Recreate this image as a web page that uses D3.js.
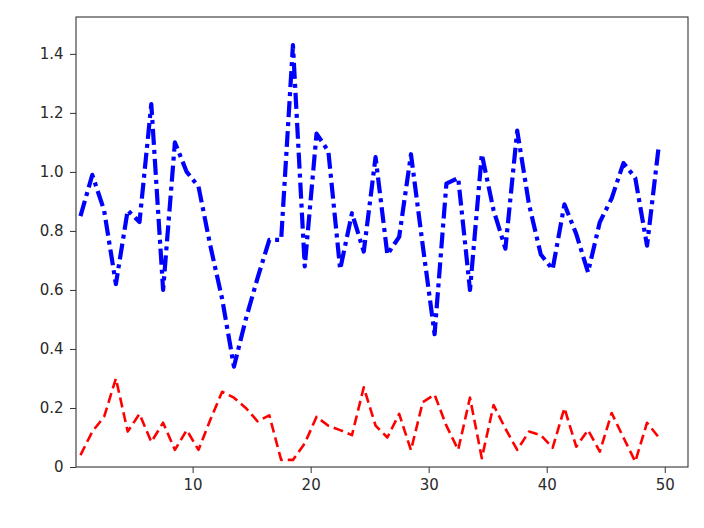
<!DOCTYPE html>
<html>
<head>
<meta charset="utf-8">
<script src="https://cdn.jsdelivr.net/npm/d3@7"></script>
<style>
  html, body { margin: 0; padding: 0; background: #fff; }
  svg { display: block; }
</style>
</head>
<body>
<svg id="chart" width="704" height="528"></svg>
<script>
// ---- data ----
const xValues = d3.range(50).map(i => 0.5 + i);
const blueSeries = [0.85, 0.99, 0.87, 0.62, 0.87, 0.83, 1.23, 0.60, 1.10, 1.00,
                    0.95, 0.75, 0.57, 0.34, 0.50, 0.64, 0.77, 0.77, 1.43, 0.68,
                    1.13, 1.07, 0.67, 0.86, 0.73, 1.05, 0.72, 0.78, 1.06, 0.75,
                    0.45, 0.96, 0.98, 0.60, 1.06, 0.87, 0.74, 1.14, 0.89, 0.72,
                    0.67, 0.89, 0.79, 0.66, 0.83, 0.91, 1.03, 0.98, 0.75, 1.09];
const redSeries  = [0.04, 0.12, 0.17, 0.30, 0.12, 0.18, 0.085, 0.15, 0.058, 0.125,
                    0.058, 0.16, 0.255, 0.235, 0.20, 0.155, 0.175, 0.024, 0.024, 0.08,
                    0.17, 0.14, 0.125, 0.108, 0.27, 0.14, 0.10, 0.18, 0.057, 0.22,
                    0.245, 0.14, 0.058, 0.235, 0.03, 0.21, 0.13, 0.058, 0.12, 0.108,
                    0.065, 0.20, 0.069, 0.125, 0.052, 0.183, 0.10, 0.018, 0.15, 0.10];
const xTicks = [10, 20, 30, 40, 50];
const yTicks = [0, 0.2, 0.4, 0.6, 0.8, 1.0, 1.2, 1.4];
const yTickLabels = ["0", "0.2", "0.4", "0.6", "0.8", "1.0", "1.2", "1.4"];

(function () {
  // ---- layout ----
  const pL = 76, pR = 688, pT = 17, pB = 467;
  const svg = d3.select("#chart");

  const x = d3.scaleLinear().domain([0.12, 51.97]).range([pL, pR]);
  const y = d3.scaleLinear().domain([0, 1.525]).range([pB, pT]);

  const line = d3.line().x((d, i) => x(xValues[i])).y(d => y(d));

  svg.append("clipPath").attr("id", "plotclip")
    .append("rect").attr("x", pL).attr("y", pT)
    .attr("width", pR - pL).attr("height", pB - pT);

  const g = svg.append("g").attr("clip-path", "url(#plotclip)");

  g.append("path")
    .datum(blueSeries)
    .attr("d", line)
    .attr("fill", "none")
    .attr("stroke", "#0000ff")
    .attr("stroke-width", 4.2)
    .attr("stroke-linejoin", "round")
    .attr("stroke-dasharray", "16,5,4,5");

  g.append("path")
    .datum(redSeries)
    .attr("d", line)
    .attr("fill", "none")
    .attr("stroke", "#ff0000")
    .attr("stroke-width", 2.6)
    .attr("stroke-linejoin", "round")
    .attr("stroke-dasharray", "10,5");

  const fontFam = "'DejaVu Sans', sans-serif";
  const xAxis = svg.append("g").attr("transform", `translate(0,${pB})`)
    .call(d3.axisBottom(x).tickValues(xTicks).tickFormat(d3.format("d")).tickSize(6).tickPadding(6));
  const yAxis = svg.append("g").attr("transform", `translate(${pL},0)`)
    .call(d3.axisLeft(y).tickValues(yTicks).tickFormat((d, i) => yTickLabels[i]).tickSize(6).tickPadding(6.5));

  [xAxis, yAxis].forEach(a => {
    a.select(".domain").remove();
    a.selectAll(".tick line").attr("stroke", "#333").attr("stroke-width", 1);
    a.selectAll(".tick text").attr("fill", "#2a2a2a").style("font-family", fontFam).style("font-size", "15px");
  });

  svg.append("rect")
    .attr("x", pL).attr("y", pT)
    .attr("width", pR - pL).attr("height", pB - pT)
    .attr("fill", "none").attr("stroke", "#333").attr("stroke-width", 1.1);
})();
</script>
</body>
</html>
